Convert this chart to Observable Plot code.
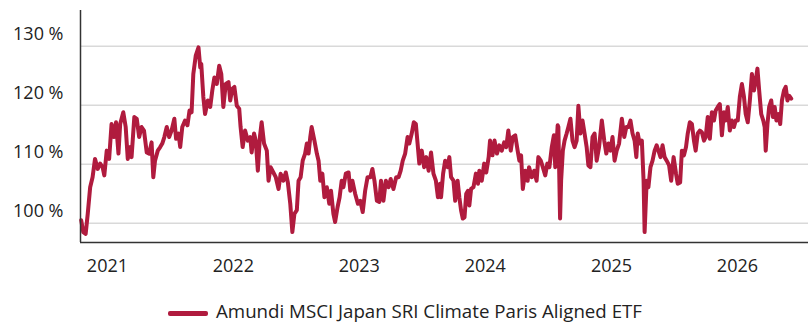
<!DOCTYPE html>
<html>
<head>
<meta charset="utf-8">
<script src="https://cdn.jsdelivr.net/npm/d3@7"></script>
<script src="https://cdn.jsdelivr.net/npm/@observablehq/plot@0.6"></script>
<style>
  body { margin: 0; background: #fff; font-family: "Open Sans", sans-serif; }
  #chart svg { display: block; }
  #legend { display: flex; justify-content: center; align-items: center; height: 24px; margin-top: 9px; font-size: 18.7px; line-height: 24px; color: #222; }
  #legend .sw { display: inline-block; width: 40px; height: 5px; border-radius: 2px; margin-right: 8px; position: relative; top: 2px; }
</style>
</head>
<body>
<div id="chart"></div>
<div id="legend"></div>
<script>
const seriesName = "Amundi MSCI Japan SRI Climate Paris Aligned ETF";
const seriesColor = "#b01b3e";

const dates = [
"2020-10-17","2020-10-23","2020-10-30","2020-11-05","2020-11-12","2020-11-19","2020-11-26","2020-12-04","2020-12-11","2020-12-18","2020-12-23","2020-12-30",
"2021-01-06","2021-01-13","2021-01-20","2021-01-26","2021-02-02","2021-02-07","2021-02-16","2021-02-23","2021-03-01","2021-03-08","2021-03-12","2021-03-20","2021-03-27","2021-04-03","2021-04-10","2021-04-17","2021-04-25","2021-05-02","2021-05-09","2021-05-14","2021-05-19","2021-05-27","2021-06-03","2021-06-09","2021-06-15","2021-06-22","2021-06-29","2021-07-06","2021-07-14","2021-07-19","2021-07-26","2021-07-31","2021-08-06","2021-08-14","2021-08-21","2021-08-27","2021-09-02","2021-09-07","2021-09-14","2021-09-22","2021-09-27","2021-09-30","2021-10-06","2021-10-11","2021-10-19","2021-10-26","2021-11-01","2021-11-07","2021-11-14","2021-11-21","2021-11-27","2021-12-03","2021-12-10","2021-12-18","2021-12-23","2021-12-29",
"2022-01-04","2022-01-11","2022-01-18","2022-01-22","2022-01-28","2022-02-04","2022-02-12","2022-02-19","2022-02-23","2022-03-02","2022-03-07","2022-03-13","2022-03-19","2022-03-24","2022-03-31","2022-04-08","2022-04-13","2022-04-19","2022-04-27","2022-05-04","2022-05-12","2022-05-18","2022-05-26","2022-06-02","2022-06-08","2022-06-15","2022-06-21","2022-06-27","2022-07-04","2022-07-09","2022-07-15","2022-07-21","2022-07-28","2022-08-02","2022-08-07","2022-08-12","2022-08-16","2022-08-24","2022-08-31","2022-09-05","2022-09-10","2022-09-16","2022-09-22","2022-09-29","2022-10-06","2022-10-11","2022-10-18","2022-10-23","2022-10-30","2022-11-05","2022-11-11","2022-11-16","2022-11-23","2022-12-01","2022-12-06","2022-12-12","2022-12-20","2022-12-28",
"2023-01-04","2023-01-11","2023-01-18","2023-01-25","2023-02-02","2023-02-08","2023-02-14","2023-02-21","2023-02-28","2023-03-05","2023-03-12","2023-03-19","2023-03-27","2023-04-02","2023-04-10","2023-04-18","2023-04-25","2023-05-01","2023-05-07","2023-05-14","2023-05-21","2023-05-26","2023-06-02","2023-06-08","2023-06-14","2023-06-19","2023-06-24","2023-07-01","2023-07-08","2023-07-14","2023-07-21","2023-07-28","2023-08-04","2023-08-11","2023-08-17","2023-08-23","2023-08-26","2023-09-01","2023-09-07","2023-09-14","2023-09-19","2023-09-24","2023-10-01","2023-10-06","2023-10-13","2023-10-18","2023-10-23","2023-10-28","2023-11-02","2023-11-07","2023-11-12","2023-11-16","2023-11-21","2023-11-28","2023-12-05","2023-12-11","2023-12-15","2023-12-22","2023-12-29",
"2024-01-04","2024-01-11","2024-01-15","2024-01-22","2024-01-28","2024-02-04","2024-02-11","2024-02-18","2024-02-25","2024-03-02","2024-03-08","2024-03-15","2024-03-21","2024-03-28","2024-04-04","2024-04-09","2024-04-14","2024-04-19","2024-04-26","2024-05-03","2024-05-07","2024-05-15","2024-05-22","2024-05-29","2024-06-03","2024-06-10","2024-06-16","2024-06-23","2024-06-29","2024-07-05","2024-07-12","2024-07-18","2024-07-22","2024-07-29","2024-07-31","2024-08-05","2024-08-08","2024-08-13","2024-08-18","2024-08-24","2024-08-29","2024-09-04","2024-09-10","2024-09-16","2024-09-22","2024-09-27","2024-10-03","2024-10-09","2024-10-15","2024-10-21","2024-10-26","2024-11-01","2024-11-07","2024-11-13","2024-11-19","2024-11-26","2024-12-04","2024-12-11","2024-12-17","2024-12-23","2024-12-29",
"2025-01-04","2025-01-10","2025-01-16","2025-01-23","2025-01-31","2025-02-07","2025-02-13","2025-02-19","2025-02-25","2025-03-03","2025-03-09","2025-03-14","2025-03-18","2025-03-24","2025-03-30","2025-04-04","2025-04-07","2025-04-13","2025-04-18","2025-04-24","2025-04-30","2025-05-06","2025-05-12","2025-05-17","2025-05-23","2025-05-29","2025-06-04","2025-06-10","2025-06-17","2025-06-23","2025-06-30","2025-07-07","2025-07-12","2025-07-19","2025-07-24","2025-07-30","2025-08-05","2025-08-10","2025-08-16","2025-08-22","2025-08-28","2025-09-02","2025-09-08","2025-09-14","2025-09-20","2025-09-26","2025-10-01","2025-10-07","2025-10-13","2025-10-19","2025-10-25","2025-10-30","2025-11-05","2025-11-11","2025-11-17","2025-11-23","2025-11-28","2025-12-04","2025-12-10","2025-12-16","2025-12-22","2025-12-27",
"2026-01-02","2026-01-08","2026-01-14","2026-01-20","2026-01-25","2026-01-31","2026-02-06","2026-02-12","2026-02-18","2026-02-23","2026-02-28","2026-03-05","2026-03-11","2026-03-17","2026-03-21","2026-03-24","2026-03-29","2026-04-03","2026-04-09","2026-04-14","2026-04-19","2026-04-24","2026-04-30","2026-05-05","2026-05-10","2026-05-16","2026-05-21","2026-05-26","2026-05-31","2026-06-06"
];

const values = [
100.5,98.5,98.2,101.6,106.1,107.8,110.9,109.2,110.1,109.5,108.1,112.3,
110.9,116.8,114.6,117.1,111.8,116.8,118.8,116.3,110.9,112.9,111.2,118.0,117.7,114.6,116.3,115.7,112.0,111.8,113.7,107.8,110.6,112.3,112.9,113.5,114.6,116.3,114.6,115.7,117.7,114.3,115.2,112.9,116.3,117.4,116.6,119.1,118.8,125.3,128.4,129.8,126.4,127.0,121.4,118.5,120.8,119.7,122.5,124.7,123.6,126.7,125.3,119.7,123.6,123.9,120.8,122.8,
123.1,119.9,119.4,116.3,112.9,115.7,114.0,114.6,112.0,115.2,114.0,108.9,114.6,117.1,113.5,112.3,107.2,109.5,108.6,107.8,105.8,108.4,107.2,108.6,106.9,103.3,98.5,101.6,102.2,107.2,107.8,110.6,111.8,113.5,111.8,114.6,116.3,114.0,111.8,110.6,107.2,108.4,104.4,106.1,103.3,105.5,101.6,100.2,102.7,104.4,107.2,106.1,108.4,108.6,105.5,107.2,105.0,103.3,
103.8,101.9,105.5,107.8,107.8,109.2,107.2,103.8,103.6,107.2,103.8,107.2,106.1,107.5,105.8,107.8,107.8,108.9,110.6,111.8,114.6,113.5,115.2,117.1,116.8,113.5,110.1,112.3,109.5,111.2,108.9,112.0,108.4,107.2,104.4,106.7,104.4,108.4,110.6,109.5,111.2,107.8,107.2,103.8,107.2,104.4,102.2,100.8,101.0,105.0,105.5,103.0,105.8,106.1,108.4,106.7,108.9,107.2,110.1,
108.6,111.2,114.0,111.5,114.0,111.8,113.2,112.3,113.7,112.9,115.7,112.3,114.6,114.9,112.3,110.6,111.5,105.8,108.9,107.2,109.5,107.8,108.9,107.2,111.2,110.6,109.5,108.1,110.1,109.5,112.9,114.9,109.5,116.6,116.3,100.8,107.2,112.3,114.0,115.2,116.3,117.7,114.0,112.9,114.0,119.9,115.2,117.4,115.2,112.9,109.8,109.5,114.6,115.2,110.6,112.9,117.4,114.0,111.8,113.5,112.3,
114.6,110.6,112.3,113.5,117.7,114.6,116.3,116.3,117.4,115.2,114.0,111.2,115.2,113.5,114.0,107.2,98.5,107.2,106.1,109.5,110.6,112.3,113.2,112.3,111.2,113.2,111.2,110.6,109.8,107.2,111.2,108.4,106.7,106.9,112.3,111.5,112.9,115.2,117.1,116.8,114.0,112.3,115.2,115.7,115.4,114.0,114.6,118.0,114.3,118.8,117.4,119.1,119.7,120.2,114.9,118.8,117.4,119.7,115.7,117.4,116.3,117.4,
117.4,121.4,123.6,121.4,118.5,117.1,120.8,125.3,122.5,124.2,126.2,122.5,118.5,117.4,116.3,112.3,116.8,119.7,120.8,118.0,119.7,117.4,118.5,116.8,120.8,122.5,123.1,120.8,121.6,121.1
];

const yTicks = [100, 110, 120, 130];
const yTickLabels = ["100 %", "110 %", "120 %", "130 %"];
const xTickYears = [2021, 2022, 2023, 2024, 2025, 2026];
const xDomainDates = ["2020-10-15", "2026-07-26"];
const yDomain = [96.73, 136.05];

const data = dates.map((d, i) => ({date: new Date(d), value: values[i]}));
const xDomain = xDomainDates.map(d => new Date(d));
const xTicks = xTickYears.map(y => new Date(Date.UTC(y, 0, 1)));

const chart = Plot.plot({
  width: 810,
  height: 290,
  marginLeft: 80,
  marginRight: 2,
  marginTop: 10,
  marginBottom: 48,
  style: {fontFamily: '"Open Sans", sans-serif', fontSize: "18px", color: "#222", background: "#fff"},
  x: {type: "utc", domain: xDomain},
  y: {domain: yDomain},
  marks: [
    Plot.gridY(yTicks, {stroke: "#d9d9d9", strokeOpacity: 1, strokeWidth: 1.5}),
    Plot.axisY(yTicks, {tickSize: 0, tickPadding: 17, dy: -11.5, tickFormat: (d) => yTickLabels[yTicks.indexOf(d)], fontSize: 18, fill: "#222", label: null}),
    Plot.axisX(xTicks, {tickSize: 0, tickPadding: 17, tickFormat: (d) => String(d.getUTCFullYear()), fontSize: 18, fill: "#222", label: null}),
    Plot.line(data, {x: "date", y: "value", stroke: seriesColor, strokeWidth: 4, strokeLinejoin: "round", strokeLinecap: "round"}),
    Plot.ruleX([xDomain[0]], {stroke: "#333", strokeWidth: 1.5}),
    Plot.ruleY([yDomain[0]], {stroke: "#333", strokeWidth: 1.5})
  ]
});
document.getElementById("chart").appendChild(chart);

const legend = document.getElementById("legend");
const sw = document.createElement("span");
sw.className = "sw";
sw.style.background = seriesColor;
const lab = document.createElement("span");
lab.textContent = seriesName;
legend.appendChild(sw);
legend.appendChild(lab);
</script>
</body>
</html>
